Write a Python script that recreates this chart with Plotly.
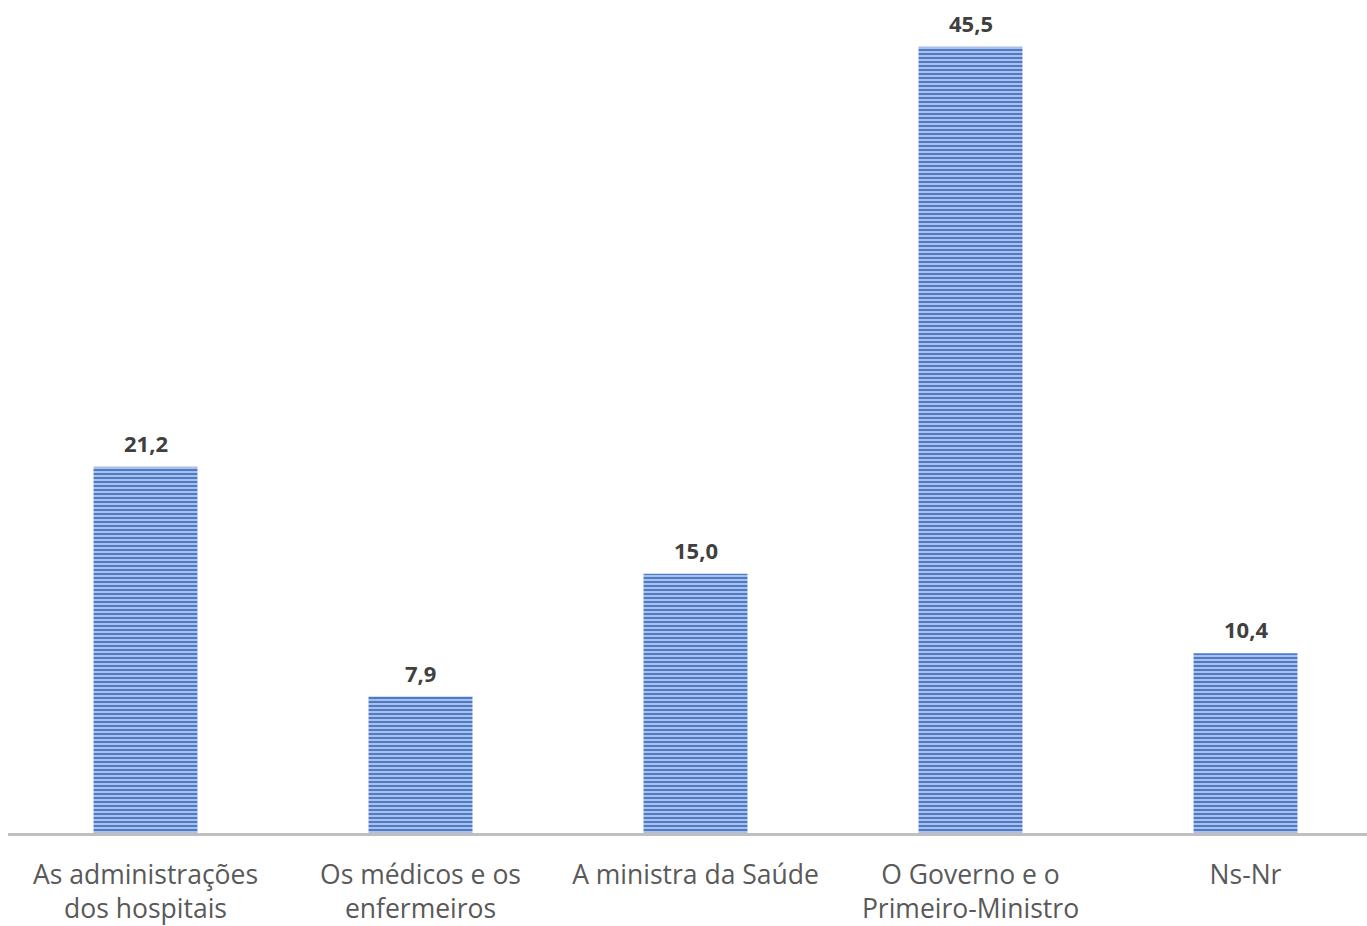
import plotly.graph_objects as go

categories = ["As administrações<br>dos hospitais", "Os médicos e os<br>enfermeiros",
              "A ministra da Saúde", "O Governo e o<br>Primeiro-Ministro", "Ns-Nr"]
values = [21.2, 7.9, 15.0, 45.5, 10.4]
labels = ["21,2", "7,9", "15,0", "45,5", "10,4"]
x = list(range(len(categories)))

fig = go.Figure(go.Bar(
    x=x, y=values, cliponaxis=False,
    width=0.378,
    marker=dict(color="#A9C0E8", line=dict(width=0),
                pattern=dict(shape="-", fgcolor="#4472C4", bgcolor="#A9C0E8",
                             size=4, solidity=0.45, fillmode="replace")),
))
for xi, v, t in zip(x, values, labels):
    fig.add_annotation(x=xi, y=v, text=t, showarrow=False, yanchor="middle", yshift=24,
                       font=dict(family="Open Sans", size=22, color="#404040", weight="bold"))
fig.update_layout(
    width=1367, height=926,
    margin=dict(l=8, r=0, t=0, b=91),
    plot_bgcolor="white", paper_bgcolor="white",
    showlegend=False,
    xaxis=dict(range=[-0.5, -0.5 + 1359 / 275], tickvals=x,
               ticktext=categories, showline=True, linecolor="#BFBFBF", linewidth=3,
               ticks="", showgrid=False, zeroline=False, ticklabelstandoff=16,
               tickfont=dict(family="Open Sans", size=26.5, color="#595959")),
    yaxis=dict(range=[0, 48.21], visible=False, showgrid=False, zeroline=False),
)
fig.write_html("out.html")
